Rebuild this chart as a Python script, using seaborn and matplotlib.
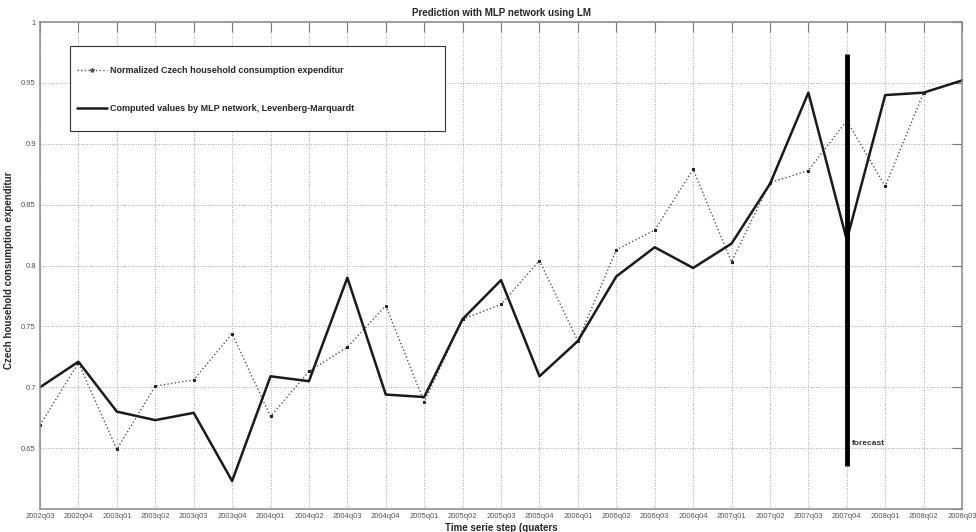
import numpy as np
import pandas as pd
import matplotlib
matplotlib.use("Agg")
import matplotlib.pyplot as plt
import seaborn as sns
from matplotlib.lines import Line2D
from matplotlib.patches import Rectangle

# Data
quarters = ['2002q03', '2002q04',
            '2003q01', '2003q02', '2003q03', '2003q04',
            '2004q01', '2004q02', '2004q03', '2004q04',
            '2005q01', '2005q02', '2005q03', '2005q04',
            '2006q01', '2006q02', '2006q03', '2006q04',
            '2007q01', '2007q02', '2007q03', '2007q04',
            '2008q01', '2008q02', '2008q03']
normalized = [0.669, 0.720, 0.649, 0.701, 0.706, 0.744,
              0.676, 0.713, 0.733, 0.767, 0.688, 0.756,
              0.768, 0.804, 0.738, 0.813, 0.829, 0.879,
              0.803, 0.868, 0.878, 0.919, 0.865, 0.942, 0.952]
mlp_lm = [0.700, 0.721, 0.680, 0.673, 0.679, 0.623,
          0.709, 0.705, 0.790, 0.694, 0.692, 0.756,
          0.788, 0.709, 0.738, 0.791, 0.815, 0.798,
          0.818, 0.867, 0.942, 0.821, 0.940, 0.942, 0.952]
forecast_at = '2007q04'
forecast_span = [0.635, 0.974]
y_ticks = [0.6, 0.65, 0.7, 0.75, 0.8, 0.85, 0.9, 0.95, 1.0]
y_ticklabels = ['', '0.65', '0.7', '0.75', '0.8', '0.85', '0.9', '0.95', '1']

sns.set_style("white")
plt.rcParams['font.family'] = ['Liberation Sans', 'DejaVu Sans']

df = pd.DataFrame({'step': np.arange(len(quarters)),
                   'normalized': normalized, 'mlp': mlp_lm})

fig = plt.figure(figsize=(9.76, 5.32), dpi=100)
ax = fig.add_axes([0.041, 0.0432, 0.9447, 0.9154])

sns.lineplot(data=df, x='step', y='normalized', ax=ax, color='#555555',
             linestyle=':', linewidth=1.0, marker='s', markersize=2,
             markerfacecolor='#222222', markeredgecolor='#222222')
sns.lineplot(data=df, x='step', y='mlp', ax=ax, color='#1a1a1a',
             linewidth=1.8)

fx = quarters.index(forecast_at)
ax.vlines(fx, forecast_span[0], forecast_span[1], color='black', linewidth=3.5)
ax.text(fx + 0.12, 0.654, 'forecast', fontsize=6, fontweight='bold',
        color='#333333', va='center')

ax.set_xlim(0, len(quarters) - 1)
ax.set_ylim(0.6, 1.0)
ax.set_xticks(df['step'])
ax.set_xticklabels(quarters, fontsize=5.5)
ax.set_yticks(y_ticks)
ax.set_yticklabels(y_ticklabels, fontsize=5.5)
ax.tick_params(direction='in', length=7, width=0.8, colors='#777777',
               top=True, right=True, pad=3, labelcolor='#555555')
ax.grid(True, linestyle=':', color='#aaaaaa', linewidth=0.7)
for s in ax.spines.values():
    s.set_color('#888888')
    s.set_linewidth(1.1)

ax.set_title('Prediction with MLP network using LM', fontsize=7,
             fontweight='bold', pad=4)
ax.set_xlabel('Time serie step (quaters', fontsize=7, fontweight='bold',
              labelpad=2)
ax.set_ylabel('Czech household consumption expenditur', fontsize=7,
              fontweight='bold')
ax.yaxis.set_label_coords(-0.028, 0.49)

# legend box (MATLAB style, wide frame)
ax.add_patch(Rectangle((0.0325, 0.776), 0.4067, 0.1745, transform=ax.transAxes,
                       facecolor='white', edgecolor='#333333', linewidth=0.8,
                       zorder=4))
handles = [Line2D([], [], color='#555555', linestyle=':', linewidth=1.0,
                  marker='*', markersize=3, markerfacecolor='#222222'),
           Line2D([], [], color='#1a1a1a', linewidth=1.8)]
labels = ['Normalized Czech household consumption expenditur',
          'Computed values by MLP network, Levenberg-Marquardt']
leg = ax.legend(handles, labels, loc='upper left',
                bbox_to_anchor=(0.040, 0.909),
                prop={'size': 6.5, 'weight': 'bold'}, frameon=False,
                borderpad=0, labelspacing=3.2, handlelength=3.3,
                handletextpad=0.4, borderaxespad=0)
leg.set_zorder(5)

plt.savefig('out.png', dpi=100)
plt.close()
